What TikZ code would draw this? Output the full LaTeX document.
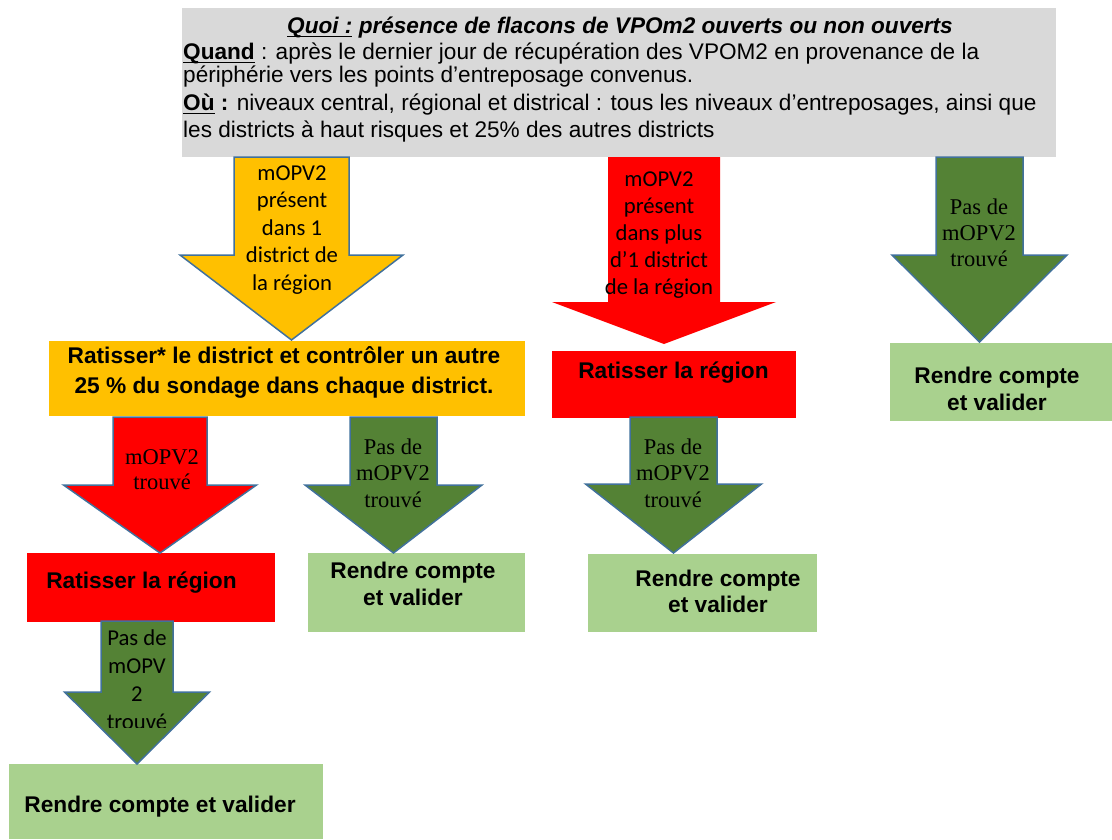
\documentclass[tikz,border=0pt]{standalone}
\usepackage{fontspec}
\setmainfont{Liberation Sans}
\newfontfamily\calfont{Carlito}
\newfontfamily\romfont{Liberation Serif}
\usetikzlibrary{positioning}

\definecolor{headgray}{HTML}{D9D9D9}
\definecolor{boxyellow}{HTML}{FFC000}
\definecolor{boxred}{HTML}{FF0000}
\definecolor{darkgreen}{HTML}{548235}
\definecolor{lightgreen}{HTML}{A9D18E}
\definecolor{edgeblue}{HTML}{41719C}

% block arrow pointing down: [style]{centre x}{half shaft}{half head}{top}{shoulder}{tip}
\newcommand{\blockarrow}[7][]{%
  \path[#1] (#2-#3,#5) -- (#2+#3,#5) -- (#2+#3,#6) -- (#2+#4,#6)
    -- (#2,#7) -- (#2-#4,#6) -- (#2-#3,#6) -- cycle;}
\newcommand{\undl}[1]{\leavevmode\setbox0=\hbox{#1}\rlap{\rule[-3pt]{\wd0}{1.4pt}}\box0\relax}

\begin{document}
\begin{tikzpicture}[x=1pt, y=-1pt,
  box/.style={inner sep=0, outer sep=0, anchor=north west},
  yellowarrow/.style={fill=boxyellow, draw=edgeblue, line width=1.5},
  redarrow/.style={fill=boxred, draw=edgeblue, line width=1.5},
  plainred/.style={fill=boxred},
  greenarrow/.style={fill=darkgreen, draw=edgeblue, line width=1.5},
  boldtxt/.style={font=\bfseries\fontsize{22.7}{27}\selectfont, align=center, inner sep=0},
  caltxt/.style={font=\calfont\fontsize{22.7}{27.5}\selectfont, align=center, inner sep=0},
  romtxt/.style={font=\romfont\fontsize{22.5}{26.5}\selectfont, align=center, inner sep=0}]
  \useasboundingbox (0,0) rectangle (1112,839);

  \node[box, fill=headgray, minimum width=874, minimum height=149] (header) at (182,8) {};
  \node[inner sep=0, font=\bfseries\itshape\fontsize{22.6}{26}\selectfont] (quoi) at (620,28)
    {\undl{Quoi :} présence de flacons de VPOm2 ouverts ou non ouverts};
  \node[inner sep=0, anchor=west, align=left, font=\fontsize{22.6}{23}\selectfont] (quand) at (183,93)
    {\textbf{\undl{Quand}} : après le dernier jour de récupération des VPOM2 en provenance de la\\
     périphérie vers les points d’entreposage convenus.\\[5pt]
     \textbf{\undl{Où} :} niveaux central, régional et districal : tous les niveaux d’entreposages, ainsi que\\[4pt]
     les districts à haut risques et 25\% des autres districts};

  \node[box, fill=boxyellow, minimum width=476, minimum height=75] (sweep) at (49,341) {};
  \node[box, fill=boxred, minimum width=244, minimum height=67] (regionB) at (552,351) {};
  \node[box, fill=lightgreen, minimum width=222, minimum height=78] (reportD) at (890,343) {};
  \node[box, fill=boxred, minimum width=248, minimum height=69] (regionA) at (27,553) {};
  \node[box, fill=lightgreen, minimum width=217, minimum height=79] (reportA) at (308,553) {};
  \node[box, fill=lightgreen, minimum width=229, minimum height=78] (reportC) at (588,554) {};
  \node[box, fill=lightgreen, minimum width=314, minimum height=75] (reportB) at (9,764) {};

  \blockarrow[yellowarrow]{291.5}{57.5}{111.5}{157}{255}{340}
  \blockarrow[plainred]{664}{56}{112}{157}{302}{344}
  \blockarrow[greenarrow]{979.5}{43.5}{87.5}{157}{255}{342}
  \blockarrow[redarrow]{160}{47}{96.5}{417}{485}{553}
  \blockarrow[greenarrow]{393.5}{43.5}{88.5}{417}{485}{553}
  \blockarrow[greenarrow]{673.5}{43.5}{88}{417}{484}{553}
  \blockarrow[greenarrow]{137}{36}{72.5}{621}{692}{764}

  \node[caltxt] (presentA) at (292,230) {mOPV2\\présent\\dans 1\\district de\\la région};
  \node[caltxt, font=\calfont\fontsize{22.7}{27}\selectfont] (presentB) at (659,235.5)
    {mOPV2\\présent\\dans plus\\d’1 district\\de la région};
  \node[romtxt, font=\romfont\fontsize{22.5}{26}\selectfont] (noneC) at (979,233) {Pas de\\mOPV2\\trouvé};
  \node[romtxt, font=\romfont\fontsize{22.5}{25}\selectfont] (foundA) at (162,469.5) {mOPV2\\trouvé};
  \node[romtxt] (noneA) at (393,473) {Pas de\\mOPV2\\trouvé};
  \node[romtxt] (noneB) at (673,473) {Pas de\\mOPV2\\trouvé};
  \begin{scope}
    \clip (90,621) rectangle (185,727);
    \node[caltxt, font=\calfont\fontsize{22.7}{28}\selectfont] (noneD) at (137,680) {Pas de\\mOPV\\2\\trouvé};
  \end{scope}

  \node[boldtxt, font=\bfseries\fontsize{22.7}{30}\selectfont] (sweeptxt) at (284,372)
    {Ratisser* le district et contrôler un autre\\25 \% du sondage dans chaque district.};
  \node[boldtxt] (regionBtxt) at (673.5,373) {Ratisser la région};
  \node[boldtxt] (reportDtxt) at (997,388.5) {Rendre compte\\et valider};
  \node[boldtxt] (regionAtxt) at (141.5,583) {Ratisser la région};
  \node[boldtxt] (reportAtxt) at (413,583.5) {Rendre compte\\et valider};
  \node[boldtxt, font=\bfseries\fontsize{22.7}{26}\selectfont] (reportCtxt) at (718,591) {Rendre compte\\et valider};
  \node[boldtxt] (reportBtxt) at (160,807) {Rendre compte et valider};
\end{tikzpicture}
\end{document}
